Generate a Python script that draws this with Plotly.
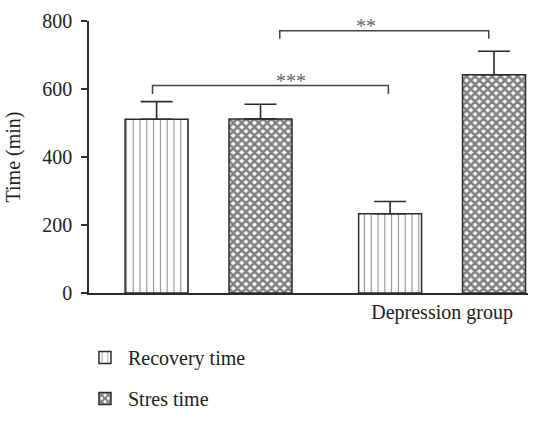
import plotly.graph_objects as go

# ---- data ----
group_pos = [0, 1]
group_labels = ["", "Depression group"]
series_names = ["Recovery time", "Stres time"]
recovery_mean = [511, 233]
recovery_err = [52, 36]
stress_mean = [512, 642]
stress_err = [43, 69]

# significance brackets (x in group-index units, y in minutes)
bracket_x0 = [-0.24, 0.305]
bracket_x1 = [0.77, 1.20]
bracket_y = [610, 771]
bracket_leg_y = [585, 748]
bracket_text = ["***", "**"]
bracket_text_x = [0.351, 0.676]

y_ticks = [0, 200, 400, 600, 800]

FONT = "Liberation Serif"
DARK = "#2b2b2b"

fig = go.Figure()
fig.add_trace(go.Bar(
    x=group_pos, y=recovery_mean, name=series_names[0], legendgroup="a",
    marker=dict(color="white", line=dict(color=DARK, width=1.5),
                pattern=dict(shape="|", size=6.8, solidity=0.16, fgcolor="#222", bgcolor="white")),
    error_y=dict(type="data", array=recovery_err, arrayminus=[0, 0], symmetric=False,
                 color=DARK, thickness=1.6, width=16),
))
fig.add_trace(go.Bar(
    x=group_pos, y=stress_mean, name=series_names[1], legendgroup="b",
    marker=dict(color="white", line=dict(color=DARK, width=1.5),
                pattern=dict(shape="x", size=6, solidity=0.66, fgcolor="#000", bgcolor="white")),
    error_y=dict(type="data", array=stress_err, arrayminus=[0, 0], symmetric=False,
                 color=DARK, thickness=1.6, width=16),
))

shapes = []
annotations = []
for x0, x1, y, yl, t, tx in zip(bracket_x0, bracket_x1, bracket_y, bracket_leg_y, bracket_text, bracket_text_x):
    shapes.append(dict(type="path", xref="x", yref="y",
                       path=f"M {x0},{yl} L {x0},{y} L {x1},{y} L {x1},{yl}",
                       line=dict(color="#444", width=1.5)))
    annotations.append(dict(x=tx, y=y, xref="x", yref="y", text=t, showarrow=False,
                            yanchor="bottom", yshift=-8,
                            font=dict(family=FONT, size=20, color="#666")))

fig.update_layout(
    width=533, height=423,
    margin=dict(l=89, r=5, t=21, b=113, pad=0),
    paper_bgcolor="white", plot_bgcolor="white",
    barmode="group", bargap=0.11, bargroupgap=0.394,
    font=dict(family=FONT, size=20, color="#222"),
    shapes=shapes, annotations=annotations,
    showlegend=True,
    legend=dict(x=-0.016, xanchor="left", y=-0.165, yanchor="top",
                traceorder="grouped", tracegroupgap=12, itemwidth=36,
                font=dict(family=FONT, size=20, color="#222"),
                bgcolor="rgba(0,0,0,0)"),
)
fig.update_xaxes(range=[-0.512, 1.368], tickvals=group_pos, ticktext=group_labels,
                 showline=True, linecolor=DARK, linewidth=1.5, ticks="",
                 showgrid=False, zeroline=False, tickfont=dict(size=20))
fig.update_yaxes(range=[0, 800], tickvals=y_ticks, showline=True, linecolor=DARK, linewidth=1.5,
                 ticks="outside", ticklen=6, tickwidth=1.5, tickcolor=DARK,
                 showgrid=False, zeroline=False, ticklabelstandoff=5,
                 title=dict(text="Time (min)", standoff=16, font=dict(size=20)))

fig.write_html("out.html", config={"displayModeBar": False},
               post_script="document.body.style.margin='0';document.body.style.overflow='hidden';")
